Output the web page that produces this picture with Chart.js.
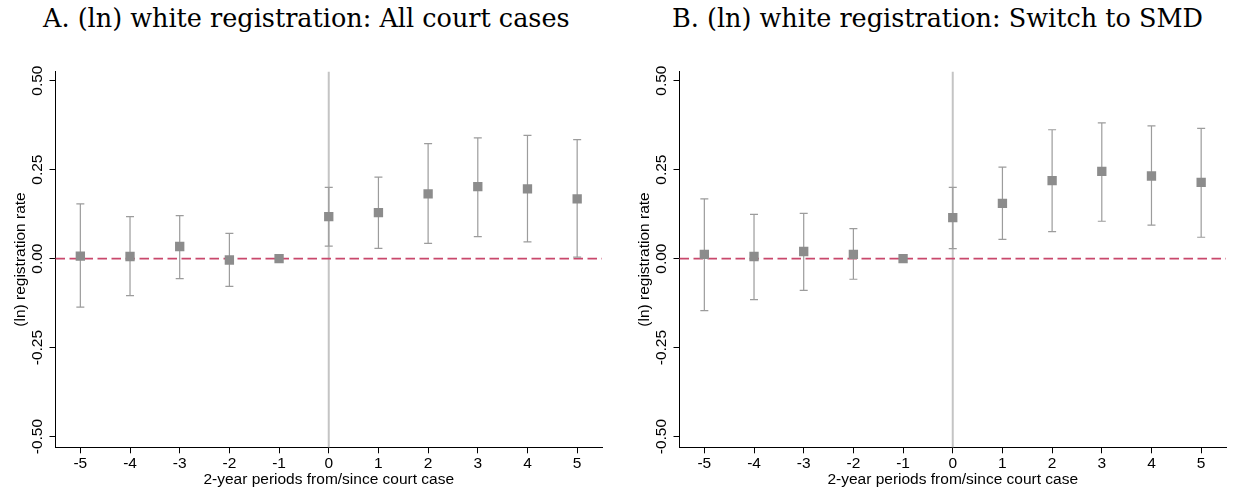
<!DOCTYPE html>
<html>
<head>
<meta charset="utf-8">
<script src="https://cdn.jsdelivr.net/npm/chart.js@4.4.1/dist/chart.umd.min.js"></script>
<style>
  body { margin: 0; background: #fff; width: 1237px; height: 489px; position: relative; overflow: hidden; }
  .ttl { position: absolute; top: 3px; font-family: "DejaVu Serif", serif; font-size: 25.5px; line-height: 30px; white-space: nowrap; color: #000; }
  .box { position: absolute; top: 0; height: 489px; }
  canvas { display: block; }
</style>
</head>
<body>
<div class="ttl" style="left:43px">A. (ln) white registration: All court cases</div>
<div class="ttl" style="left:672px">B. (ln) white registration: Switch to SMD</div>
<div class="box" style="left:0;width:620px"><canvas id="chartA" width="620" height="489"></canvas></div>
<div class="box" style="left:624px;width:613px"><canvas id="chartB" width="613" height="489"></canvas></div>
<script>
const periods = [-5, -4, -3, -2, -1, 0, 1, 2, 3, 4, 5];
const xTicks = [-5, -4, -3, -2, -1, 0, 1, 2, 3, 4, 5];
const yTicks = [-0.5, -0.25, 0, 0.25, 0.5];

// panel A: all court cases
const coefA = [0.007, 0.006, 0.034, -0.004, 0, 0.118, 0.129, 0.182, 0.202, 0.196, 0.168];
const loA = [-0.136, -0.104, -0.056, -0.078, null, 0.035, 0.029, 0.043, 0.062, 0.047, 0.004];
const hiA = [0.154, 0.118, 0.121, 0.071, null, 0.200, 0.229, 0.323, 0.339, 0.346, 0.334];

// panel B: switch to SMD
const coefB = [0.012, 0.006, 0.020, 0.012, 0, 0.115, 0.155, 0.219, 0.245, 0.232, 0.214];
const loB = [-0.146, -0.115, -0.089, -0.058, null, 0.028, 0.054, 0.076, 0.105, 0.094, 0.060];
const hiB = [0.168, 0.124, 0.127, 0.084, null, 0.200, 0.257, 0.362, 0.381, 0.373, 0.366];

const xTitle = "2-year periods from/since court case";
const yTitle = "(ln) registration rate";

const sans = "'Liberation Sans', Arial, sans-serif";
Chart.defaults.color = "#000";

// reference lines + confidence intervals, drawn under the markers
function errorBars(lo, hi) {
  return {
    id: "errorBars",
    beforeDatasetsDraw(chart) {
      const { ctx, chartArea: a, scales: { x, y } } = chart;
      ctx.save();
      const x0 = x.getPixelForValue(0);
      ctx.strokeStyle = "#c4c4c4";
      ctx.lineWidth = 2;
      ctx.beginPath();
      ctx.moveTo(x0, a.top);
      ctx.lineTo(x0, a.bottom);
      ctx.stroke();

      const y0 = y.getPixelForValue(0);
      ctx.strokeStyle = "#c9486c";
      ctx.lineWidth = 1.6;
      ctx.setLineDash([9.5, 4.5]);
      ctx.beginPath();
      ctx.moveTo(a.left, y0);
      ctx.lineTo(a.right, y0);
      ctx.stroke();
      ctx.setLineDash([]);

      ctx.strokeStyle = "#9c9c9c";
      ctx.lineWidth = 1.2;
      lo.forEach((l, i) => {
        if (l == null) return;
        const px = x.getPixelForValue(periods[i]);
        const pl = y.getPixelForValue(l);
        const ph = y.getPixelForValue(hi[i]);
        ctx.beginPath();
        ctx.moveTo(px, pl);
        ctx.lineTo(px, ph);
        ctx.moveTo(px - 4, pl);
        ctx.lineTo(px + 4, pl);
        ctx.moveTo(px - 4, ph);
        ctx.lineTo(px + 4, ph);
        ctx.stroke();
      });
      ctx.restore();
    }
  };
}

function makeChart(id, coef, lo, hi, padRight) {
  return new Chart(document.getElementById(id), {
    type: "scatter",
    data: {
      datasets: [{
        data: periods.map((p, i) => ({ x: p, y: coef[i] })),
        pointStyle: "rect",
        pointRadius: 6.6,
        backgroundColor: "#8c8c8c",
        borderWidth: 0
      }]
    },
    options: {
      responsive: false,
      animation: false,
      events: [],
      layout: { padding: { top: 71.7, right: padRight, left: 0, bottom: 0 } },
      plugins: { legend: { display: false }, tooltip: { enabled: false } },
      scales: {
        x: {
          type: "linear",
          min: -5.5,
          max: 5.5,
          afterBuildTicks: (s) => { s.ticks = xTicks.map((v) => ({ value: v })); },
          afterFit: (s) => { s.height = 41.7; },
          ticks: { font: { family: sans, size: 15.5 }, color: "#000", padding: 1, callback: (v) => String(v) },
          grid: { drawOnChartArea: false, tickLength: 6, color: "#000" },
          border: { color: "#000", width: 1 },
          title: { display: true, text: xTitle, color: "#000", font: { family: sans, size: 15.5 }, padding: 0 }
        },
        y: {
          min: -0.53,
          max: 0.525,
          afterBuildTicks: (s) => { s.ticks = yTicks.map((v) => ({ value: v })); },
          afterFit: (s) => { s.width = 55.5; },
          ticks: {
            font: { family: sans, size: 15.5 },
            color: "#000",
            minRotation: 90,
            maxRotation: 90,
            crossAlign: "center",
            padding: -5.5,
            callback: (v) => v.toFixed(2)
          },
          grid: { drawOnChartArea: false, tickLength: 6, color: "#000" },
          border: { color: "#000", width: 1 },
          title: { display: true, text: yTitle, color: "#000", font: { family: sans, size: 15.5 }, padding: { top: 11, bottom: 0 } }
        }
      }
    },
    plugins: [errorBars(lo, hi)]
  });
}

makeChart("chartA", coefA, loA, hiA, 18);
makeChart("chartB", coefB, loB, hiB, 11);
</script>
</body>
</html>
